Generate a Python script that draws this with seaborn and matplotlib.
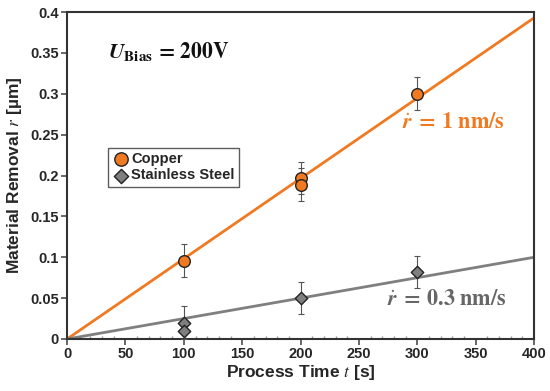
import matplotlib
matplotlib.use("Agg")
import matplotlib.pyplot as plt
import seaborn as sns
import numpy as np
import pandas as pd
from matplotlib.ticker import MultipleLocator

# Data
cu_t = [100, 200, 200, 300]
cu_r = [0.096, 0.197, 0.189, 0.300]
cu_err = [0.02, 0.02, 0.02, 0.02]
ss_t = [100, 100, 200, 300]
ss_r = [0.020, 0.010, 0.050, 0.082]
ss_err = [0.02, 0.0, 0.02, 0.02]
fit_t = [0, 400]
cu_fit = [0.0, 0.393]
ss_fit = [0.0, 0.100]

orange = "#F07A21"
grey = "#7F7F7F"

sns.set_theme(style="white")
plt.rcParams["font.family"] = ["Liberation Sans", "DejaVu Sans"]
plt.rcParams["mathtext.fontset"] = "stix"

fig = plt.figure(figsize=(5.5, 3.91), dpi=100)
ax = fig.add_axes([0.122, 0.133, 0.849, 0.836])

sns.lineplot(x=fit_t, y=cu_fit, ax=ax, color=orange, lw=2, zorder=2)
sns.lineplot(x=fit_t, y=ss_fit, ax=ax, color=grey, lw=2, zorder=2)

ax.errorbar(cu_t, cu_r, yerr=cu_err, fmt="none", ecolor="#555555", elinewidth=0.8, capsize=2, capthick=0.8, zorder=3)
ax.errorbar(ss_t, ss_r, yerr=ss_err, fmt="none", ecolor="#555555", elinewidth=0.8, capsize=2, capthick=0.8, zorder=3)

df_cu = pd.DataFrame({"t": cu_t, "r": cu_r})
df_ss = pd.DataFrame({"t": ss_t, "r": ss_r})
sns.scatterplot(data=df_cu, x="t", y="r", ax=ax, marker="o", s=70, color=orange,
                edgecolor="#222222", linewidth=1, zorder=4, label="Copper")
sns.scatterplot(data=df_ss, x="t", y="r", ax=ax, marker="D", s=40, color=grey,
                edgecolor="#222222", linewidth=1, zorder=4, label="Stainless Steel")

ax.set_xlim(0, 400)
ax.set_ylim(0, 0.4)
ax.xaxis.set_major_locator(MultipleLocator(50))
ax.xaxis.set_minor_locator(MultipleLocator(10))
ax.set_yticks([0, 0.05, 0.1, 0.15, 0.2, 0.25, 0.3, 0.35, 0.4])
ax.set_yticklabels(["0", "0.05", "0.1", "0.15", "0.2", "0.25", "0.3", "0.35", "0.4"])
for lab in ax.get_xticklabels() + ax.get_yticklabels():
    lab.set_fontweight("bold")
    lab.set_fontsize(10.5)
ax.tick_params(axis="both", which="major", direction="out", length=4, color="#555555", bottom=True, left=True, pad=2)
ax.tick_params(axis="x", which="minor", direction="in", length=2, color="#999999", bottom=True)

for sp in ax.spines.values():
    sp.set_color("#333333")
    sp.set_linewidth(1.5)

ax.set_xlabel("Process Time $t$ [s]", fontsize=12.5, fontweight="bold", labelpad=1)
ax.set_ylabel("Material Removal $r$ [µm]", fontsize=12.5, fontweight="bold", labelpad=4)

ax.text(0.088, 0.88, r"$\boldsymbol{U}_{\mathbf{Bias}}\,\mathbf{=\,200V}$", transform=ax.transAxes,
        fontsize=15.5, color="#111111", va="center")
ax.text(331, 0.265, r"$\dot{\boldsymbol{r}}\;\mathbf{=\,1\ nm/s}$", fontsize=16, color=orange,
        ha="center", va="center")
ax.text(325, 0.048, r"$\dot{\boldsymbol{r}}\;\mathbf{=\,0.3\ nm/s}$", fontsize=16, color="#666666",
        ha="center", va="center")

leg = ax.legend(loc="upper left", bbox_to_anchor=(0.072, 0.607), frameon=True, fancybox=False,
                handletextpad=0.1, borderpad=0.3, labelspacing=0.15, handlelength=1.2,
                prop={"weight": "bold", "size": 10.5}, markerscale=1.15)
leg.get_frame().set_edgecolor("#333333")
leg.get_frame().set_linewidth(1)

fig.savefig("out.png", dpi=100)
